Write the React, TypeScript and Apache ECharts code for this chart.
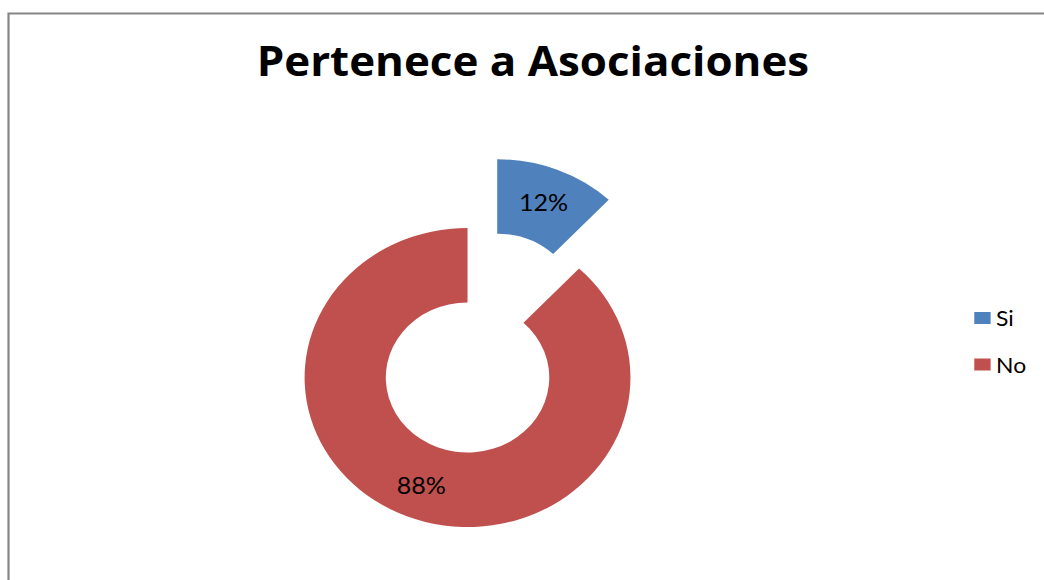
import React, { useEffect, useRef } from "react";
import * as echarts from "echarts";

const titleText = "Pertenece a Asociaciones";
const categories = ["Si", "No"];
const values = [12, 88];
const colors = ["#4F81BD", "#C0504D"];

// The reference picture is horizontally stretched; draw at native aspect and stretch.
const STRETCH = 1.0898;
const BASE_W = 958;
const BASE_H = 580;

export default function App() {
  const ref = useRef<HTMLDivElement>(null);
  useEffect(() => {
    if (!ref.current) return;
    const chart = echarts.init(ref.current, undefined, { renderer: "svg" });
    chart.setOption({
      animation: false,
      backgroundColor: "#ffffff",
      title: {
        text: titleText,
        left: 484,
        top: 35,
        textAlign: "center",
        textStyle: { fontFamily: "Open Sans", fontWeight: "bold", fontSize: 40.3, color: "#000000" },
      },
      legend: {
        orient: "vertical",
        left: 889,
        top: 302.5,
        itemWidth: 15,
        itemHeight: 12,
        itemGap: 25.5,
        icon: "rect",
        data: categories,
        textStyle: { fontFamily: "Lato", fontSize: 21, color: "#000000" },
      },
      graphic: [
        {
          type: "rect",
          shape: { x: 7.8, y: 13.5, width: 1100, height: 700 },
          style: { fill: "none", stroke: "#868686", lineWidth: 2 },
          silent: true,
        },
      ],
      series: [
        {
          type: "pie",
          center: [429, 377.5],
          radius: [75, 149.5],
          startAngle: 90,
          clockwise: true,
          selectedMode: "single",
          selectedOffset: 74,
          avoidLabelOverlap: false,
          label: {
            show: true,
            position: "inside",
            formatter: "{d}%",
            fontFamily: "Lato",
            fontSize: 23,
            color: "#000000",
          },
          labelLine: { show: false },
          emphasis: { disabled: true },
          data: categories.map((c, i) => ({
            name: c,
            value: values[i],
            selected: i === 0,
            itemStyle: { color: colors[i] },
          })),
        },
      ],
    });
    return () => chart.dispose();
  }, []);
  return (
    <div
      style={{ position: "fixed", left: 0, top: 0, width: 1044, height: 580, overflow: "hidden", background: "#ffffff" }}
    >
      <div
        ref={ref}
        style={{
          width: BASE_W,
          height: BASE_H,
          transform: `scaleX(${STRETCH})`,
          transformOrigin: "0 0",
        }}
      />
    </div>
  );
}
